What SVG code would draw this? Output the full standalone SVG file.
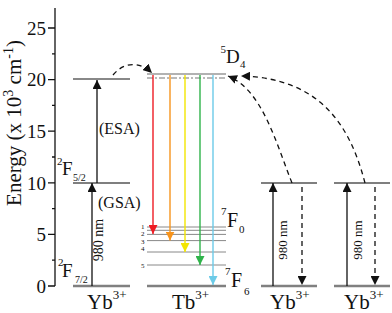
<svg xmlns="http://www.w3.org/2000/svg" width="392" height="313" viewBox="0 0 392 313" font-family="'Liberation Serif','Times New Roman',serif">
<style>
text{font-family:"Liberation Serif","Times New Roman",serif;fill:#111}
.ax{stroke:#111;stroke-width:1.3;fill:none}
.gnd{stroke:#808080;stroke-width:2.5}
.lvl{stroke:#555;stroke-width:1.4}
.esa{stroke:#888;stroke-width:1.8}
.thin{stroke:#888;stroke-width:1}
.arr{stroke:#111;stroke-width:1.3;fill:none}
.dash{stroke:#111;stroke-width:1.3;fill:none;stroke-dasharray:5 4}
.tk{font-size:19px;text-anchor:end}
</style>
<defs>
<marker id="ah" viewBox="0 0 10 10" refX="10" refY="5" markerWidth="9" markerHeight="9" markerUnits="userSpaceOnUse" orient="auto"><path d="M0,0L10,5L0,10z" fill="#111"/></marker>
<marker id="mr" viewBox="0 0 10 10" refX="10" refY="5" markerWidth="9" markerHeight="9" markerUnits="userSpaceOnUse" orient="auto"><path d="M0,0L10,5L0,10z" fill="#ee1c24"/></marker>
<marker id="mo" viewBox="0 0 10 10" refX="10" refY="5" markerWidth="9" markerHeight="9" markerUnits="userSpaceOnUse" orient="auto"><path d="M0,0L10,5L0,10z" fill="#f7941d"/></marker>
<marker id="my" viewBox="0 0 10 10" refX="10" refY="5" markerWidth="9" markerHeight="9" markerUnits="userSpaceOnUse" orient="auto"><path d="M0,0L10,5L0,10z" fill="#f2e500"/></marker>
<marker id="mg" viewBox="0 0 10 10" refX="10" refY="5" markerWidth="9" markerHeight="9" markerUnits="userSpaceOnUse" orient="auto"><path d="M0,0L10,5L0,10z" fill="#2fb34a"/></marker>
<marker id="mb" viewBox="0 0 10 10" refX="10" refY="5" markerWidth="9" markerHeight="9" markerUnits="userSpaceOnUse" orient="auto"><path d="M0,0L10,5L0,10z" fill="#6ccbe8"/></marker>
</defs>

<g id="axis">
<line class="ax" x1="55" y1="8" x2="55" y2="286"/>
<path class="ax" d="M48,286H55M48,234.4H55M48,182.8H55M48,131.2H55M48,79.6H55M48,28H55M52,260.2H55M52,208.6H55M52,157H55M52,105.4H55M52,53.8H55"/>
<text class="tk" x="46" y="292.5">0</text>
<text class="tk" x="46" y="241">5</text>
<text class="tk" x="46" y="189.5">10</text>
<text class="tk" x="46" y="138">15</text>
<text class="tk" x="46" y="86">20</text>
<text class="tk" x="46" y="34.5">25</text>
<text transform="translate(21,123) rotate(-90)" text-anchor="middle" font-size="21">Energy (x 10<tspan dy="-8" font-size="14">3</tspan><tspan dy="8"> cm</tspan><tspan dy="-8" font-size="14">-1</tspan><tspan dy="8">)</tspan></text>
</g>

<g id="yb-left">
<line class="gnd" x1="73" y1="286" x2="130" y2="286"/>
<line class="lvl" x1="73" y1="183" x2="130" y2="183"/>
<line class="esa" x1="73" y1="79" x2="130" y2="79"/>
<text x="57" y="165" font-size="11">2</text>
<text x="62" y="175" font-size="19">F</text>
<text x="73" y="181" font-size="10">5/2</text>
<text x="58" y="266" font-size="11">2</text>
<text x="62" y="277" font-size="19">F</text>
<text x="75" y="283" font-size="10">7/2</text>
<text x="99" y="134" font-size="16">(ESA)</text>
<text x="98" y="208" font-size="16">(GSA)</text>
<text transform="translate(103,240) rotate(-90)" text-anchor="middle" font-size="14">980 nm</text>
<text x="87" y="309" font-size="21">Yb<tspan dy="-10" font-size="13">3+</tspan></text>
</g>

<g id="tb">
<line x1="147" y1="74" x2="226" y2="74" stroke="#999" stroke-width="1.3"/>
<line x1="147" y1="78" x2="226" y2="78" stroke="#777" stroke-width="1.2" stroke-dasharray="6 2 2 2"/>
<path class="thin" d="M147,227H226M147,230.3H226M147,234.4H226M147,240.6H226M147,252H226M147,265H226"/>
<line class="gnd" x1="147" y1="286" x2="226" y2="286"/>
<g font-size="7">
<text x="141" y="229">1</text>
<text x="141" y="236">2</text>
<text x="141" y="243.5">3</text>
<text x="141" y="251">4</text>
<text x="141" y="268">5</text>
</g>
<text x="221" y="215" font-size="11">7</text>
<text x="227" y="227" font-size="20">F</text>
<text x="239" y="233" font-size="11">0</text>
<text x="225" y="275" font-size="11">7</text>
<text x="231" y="287" font-size="20">F</text>
<text x="244" y="295" font-size="11">6</text>
<text x="220.5" y="53" font-size="11">5</text>
<text x="226" y="63" font-size="19">D</text>
<text x="240" y="68" font-size="11">4</text>
<text x="172" y="309" font-size="21">Tb<tspan dy="-10" font-size="13">3+</tspan></text>
</g>

<g id="yb-right1">
<line class="gnd" x1="261" y1="286" x2="317" y2="286"/>
<line class="lvl" x1="261" y1="183" x2="317" y2="183"/>
<text transform="translate(287,240) rotate(-90)" text-anchor="middle" font-size="13">980 nm</text>
<text x="270" y="309" font-size="21">Yb<tspan dy="-10" font-size="13">3+</tspan></text>
</g>

<g id="yb-right2">
<line class="gnd" x1="334" y1="286" x2="390" y2="286"/>
<line class="lvl" x1="334" y1="183" x2="390" y2="183"/>
<text transform="translate(362,240) rotate(-90)" text-anchor="middle" font-size="13">980 nm</text>
<text x="344" y="309" font-size="21">Yb<tspan dy="-10" font-size="13">3+</tspan></text>
</g>

<g id="connectors">
<line class="arr" x1="92" y1="286" x2="92" y2="183" marker-end="url(#ah)"/>
<line class="arr" x1="97" y1="183" x2="97" y2="80" marker-end="url(#ah)"/>
<line x1="153" y1="75" x2="153" y2="234" stroke="#ee1c24" stroke-width="1.4" marker-end="url(#mr)"/>
<line x1="170" y1="75" x2="170" y2="240.6" stroke="#f7941d" stroke-width="1.4" marker-end="url(#mo)"/>
<line x1="185" y1="75" x2="185" y2="252" stroke="#f2e500" stroke-width="1.4" marker-end="url(#my)"/>
<line x1="200" y1="75" x2="200" y2="265" stroke="#2fb34a" stroke-width="1.4" marker-end="url(#mg)"/>
<line x1="213" y1="75" x2="213" y2="285" stroke="#6ccbe8" stroke-width="1.4" marker-end="url(#mb)"/>
<path class="dash" d="M113,75C123,63 138,60 152,73" marker-end="url(#ah)"/>
<path class="dash" d="M292,183C275,140 262,90 228,76" marker-end="url(#ah)"/>
<path class="dash" d="M365,183C350,125 320,78 241,76" marker-end="url(#ah)"/>
<line class="arr" x1="273" y1="286" x2="273" y2="183" marker-end="url(#ah)"/>
<line class="dash" x1="302" y1="187" x2="302" y2="285" marker-end="url(#ah)"/>
<line class="arr" x1="347" y1="286" x2="347" y2="183" marker-end="url(#ah)"/>
<line class="dash" x1="375" y1="187" x2="375" y2="285" marker-end="url(#ah)"/>
</g>
</svg>
